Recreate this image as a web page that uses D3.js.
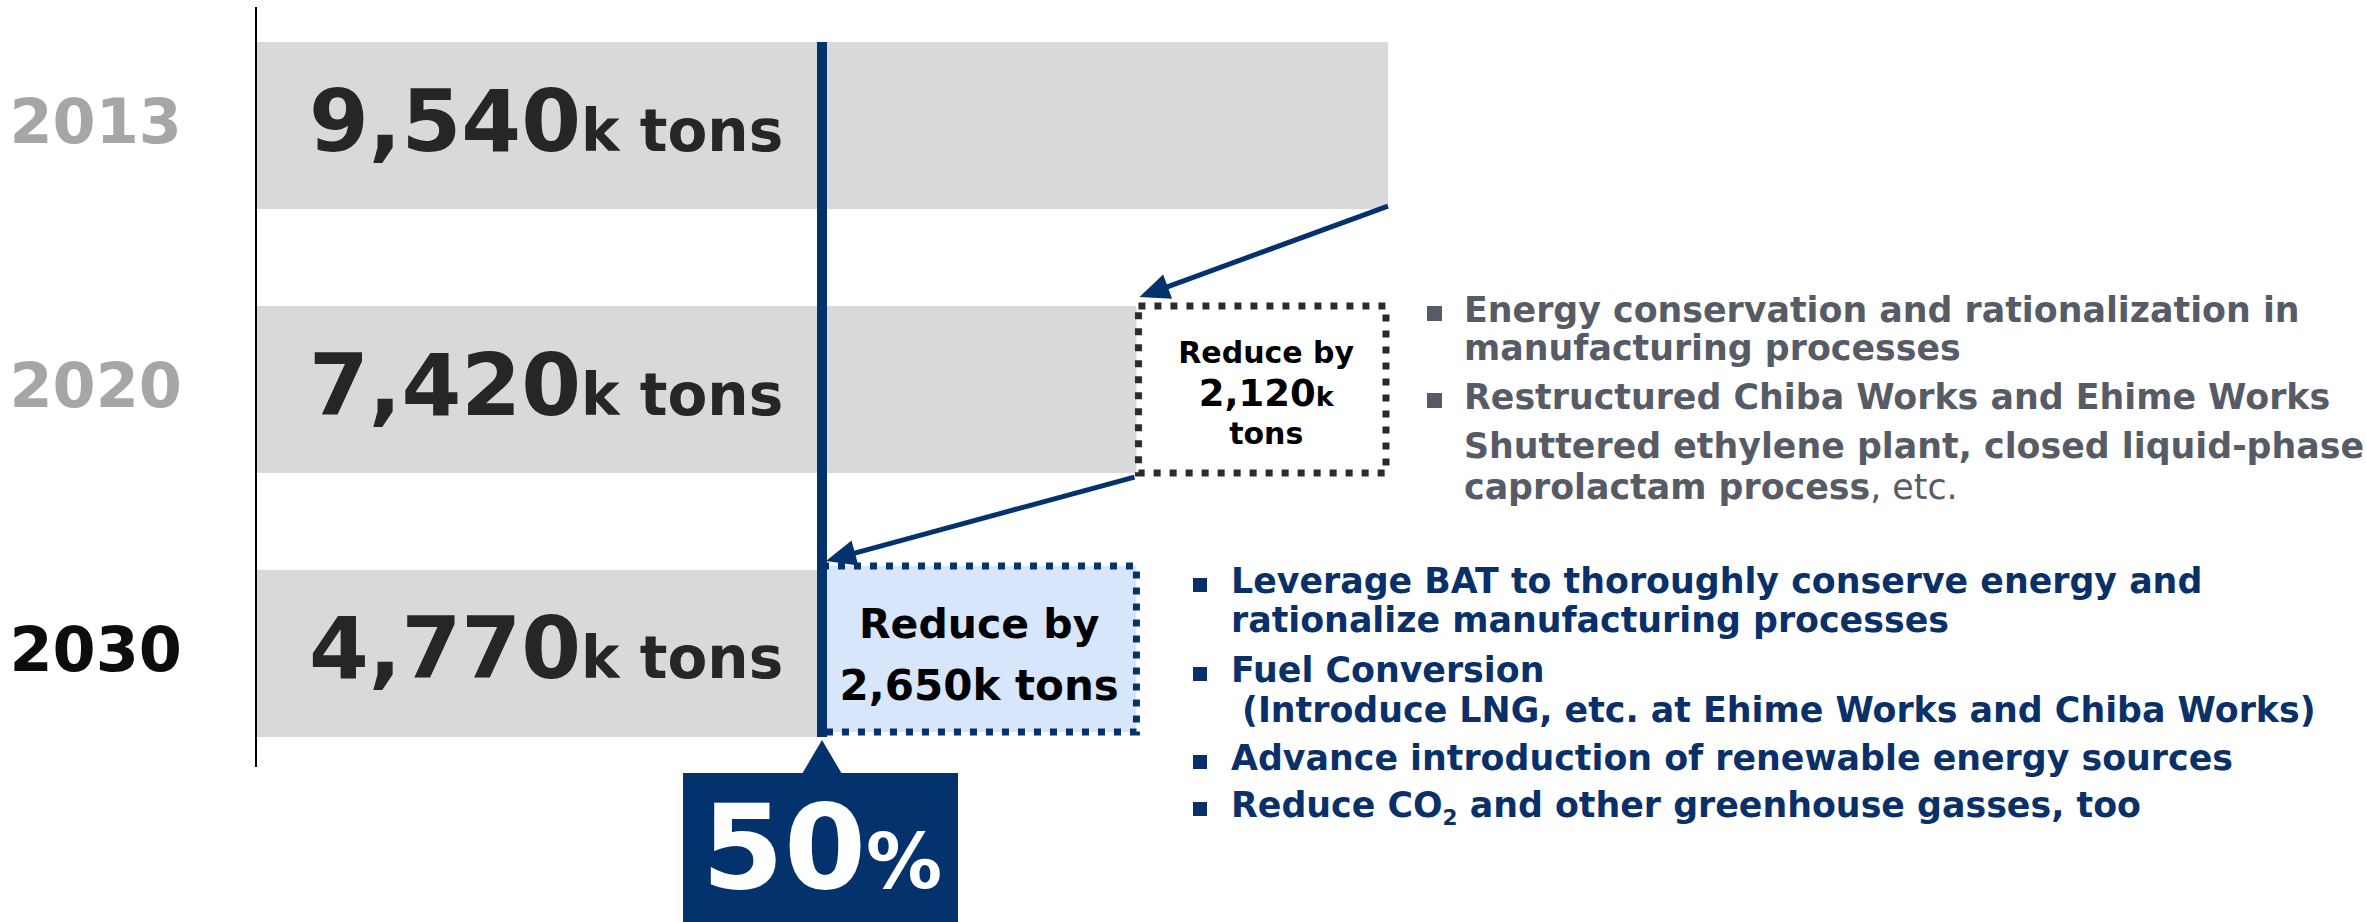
<!DOCTYPE html>
<html>
<head>
<meta charset="utf-8">
<script src="https://cdn.jsdelivr.net/npm/d3@7"></script>
<style>
  html, body { margin: 0; padding: 0; background: #ffffff; }
  svg { display: block; }
  text { font-family: "DejaVu Sans", Verdana, sans-serif; font-weight: bold; }
</style>
</head>
<body>
<svg id="chart" width="2366" height="922"></svg>
<script>
// ---------------- data ----------------
const years = ["2013", "2020", "2030"];
const emissions = [9540, 7420, 4770];          // thousand tons
const reductionFrom = ["2013", "2020"];
const reductionTo = ["2020", "2030"];
const reductionAmounts = [2120, 2650];          // thousand tons
const reductionPercent = 50;                    // vs 2013
const unitLabel = "k tons";

const grayBullets = [
  { bullet: true,  parts: [{ t: "Energy conservation and rationalization in" }] },
  { bullet: false, parts: [{ t: "manufacturing processes" }] },
  { bullet: true,  parts: [{ t: "Restructured Chiba Works and Ehime Works" }] },
  { bullet: false, parts: [{ t: "Shuttered ethylene plant, closed liquid-phase" }] },
  { bullet: false, parts: [{ t: "caprolactam process" }, { t: ", etc.", normal: true }] }
];
const navyBullets = [
  { bullet: true,  parts: [{ t: "Leverage BAT to thoroughly conserve energy and" }] },
  { bullet: false, parts: [{ t: "rationalize manufacturing processes" }] },
  { bullet: true,  parts: [{ t: "Fuel Conversion" }] },
  { bullet: false, indent: true, parts: [{ t: "(Introduce LNG, etc. at Ehime Works and Chiba Works)" }] },
  { bullet: true,  parts: [{ t: "Advance introduction of renewable energy sources" }] },
  { bullet: true,  parts: [{ t: "Reduce CO" }, { t: "2", sub: true }, { t: " and other greenhouse gasses, too" }] }
];

// ---------------- styles ----------------
const NAVY = "#04326c";
const BAR_GRAY = "#d9d9d9";
const LIGHT_BLUE = "#d8e6fb";
const DARK = "#262626";
const YEAR_GRAY = "#a6a6a6";
const TEXT_GRAY = "#575b66";
const fmt = d3.format(",");

const svg = d3.select("#chart");

const x = d3.scaleLinear().domain([0, 9540]).range([256, 1388]);
const y = d3.scaleBand().domain(years).range([42, 737]).paddingInner(0.367).paddingOuter(0);
const bw = y.bandwidth();
const valueOf = yr => emissions[years.indexOf(yr)];

// ---------------- bars ----------------
svg.append("g").selectAll("rect")
  .data(years)
  .join("rect")
  .attr("x", x(0))
  .attr("y", d => y(d))
  .attr("width", d => x(valueOf(d)) - x(0))
  .attr("height", bw)
  .attr("fill", BAR_GRAY);

// reduction boxes
// 2013 -> 2020 : dotted white box on 2020 row
const r1 = { x0: x(valueOf("2020")), x1: x(valueOf("2013")), yTop: y("2020") };
svg.append("rect")
  .attr("x", r1.x0 + 2).attr("y", r1.yTop)
  .attr("width", r1.x1 - r1.x0 - 4).attr("height", bw)
  .attr("fill", "#ffffff")
  .attr("stroke", "#2b2b2b").attr("stroke-width", 7)
  .attr("stroke-dasharray", "7 9");

// 2020 -> 2030 : light blue dotted box on 2030 row
const r2 = { x0: x(valueOf("2030")), x1: x(valueOf("2020")), yTop: y("2030") };
svg.append("rect")
  .attr("x", r2.x0).attr("y", r2.yTop - 4)
  .attr("width", r2.x1 - r2.x0).attr("height", bw - 1)
  .attr("fill", LIGHT_BLUE)
  .attr("stroke", NAVY).attr("stroke-width", 7)
  .attr("stroke-dasharray", "7 9");

// vertical target line (50% of 2013)
svg.append("line")
  .attr("x1", x(valueOf("2030"))).attr("x2", x(valueOf("2030")))
  .attr("y1", y("2013")).attr("y2", y("2030") + bw)
  .attr("stroke", NAVY).attr("stroke-width", 10);

// axis line
svg.append("line")
  .attr("x1", x(0)).attr("x2", x(0))
  .attr("y1", 7).attr("y2", 767)
  .attr("stroke", "#000").attr("stroke-width", 2);

// year labels via axis
const yAxis = d3.axisLeft(y).tickSize(0).tickPadding(74);
const ag = svg.append("g").attr("transform", `translate(${x(0)},0)`).call(yAxis);
ag.select(".domain").remove();
ag.selectAll("text")
  .attr("dy", "0.28em")
  .attr("font-family", "DejaVu Sans")
  .attr("font-weight", "bold")
  .attr("font-size", 62)
  .attr("fill", d => d === "2030" ? "#0d0d0d" : YEAR_GRAY);

// value labels
svg.append("g").selectAll("text")
  .data(years)
  .join("text")
  .attr("x", x(0) + 53)
  .attr("y", d => y(d) + bw / 2 + 25)
  .attr("fill", DARK)
  .each(function (d) {
    const t = d3.select(this);
    t.append("tspan").attr("font-size", 86).text(fmt(valueOf(d)));
    t.append("tspan").attr("font-size", 58).text(unitLabel);
  });

// reduction labels
// box 1
{
  const cx = (r1.x0 + r1.x1) / 2 + 4;
  const cy = r1.yTop + bw / 2;
  const g = svg.append("g").attr("fill", "#000");
  g.append("text").attr("x", cx).attr("y", cy - 27).attr("text-anchor", "middle")
    .attr("font-size", 30).text("Reduce by");
  const t2 = g.append("text").attr("x", cx).attr("y", cy + 16).attr("text-anchor", "middle");
  t2.append("tspan").attr("font-size", 37).text(fmt(reductionAmounts[0]));
  t2.append("tspan").attr("font-size", 27).text("k");
  g.append("text").attr("x", cx).attr("y", cy + 54).attr("text-anchor", "middle")
    .attr("font-size", 30).text("tons");
}
// box 2
{
  const cx = (r2.x0 + r2.x1) / 2;
  const cy = r2.yTop + bw / 2;
  const g = svg.append("g").attr("fill", "#000");
  g.append("text").attr("x", cx).attr("y", cy - 15).attr("text-anchor", "middle")
    .attr("font-size", 41).text("Reduce by");
  g.append("text").attr("x", cx).attr("y", cy + 47).attr("text-anchor", "middle")
    .attr("font-size", 42).text(fmt(reductionAmounts[1]) + unitLabel);
}

// arrows
function arrow(x1, y1, x2, y2) {
  const dx = x2 - x1, dy = y2 - y1, len = Math.hypot(dx, dy);
  const ux = dx / len, uy = dy / len, nx = -uy, ny = ux;
  const L = 30, W = 26;
  svg.append("line")
    .attr("x1", x1).attr("y1", y1)
    .attr("x2", x2 - ux * (L - 4)).attr("y2", y2 - uy * (L - 4))
    .attr("stroke", NAVY).attr("stroke-width", 5);
  const bx = x2 - ux * L, by = y2 - uy * L;
  svg.append("path")
    .attr("d", d3.line()([[x2, y2], [bx + nx * W / 2, by + ny * W / 2], [bx - nx * W / 2, by - ny * W / 2]]) + "Z")
    .attr("fill", NAVY);
}
arrow(x(valueOf(reductionFrom[0])), y(reductionFrom[0]) + bw - 3, x(valueOf(reductionTo[0])) + 3, y(reductionTo[0]) - 9);
arrow(x(valueOf(reductionFrom[1])) - 2, y(reductionFrom[1]) + bw + 4, x(valueOf(reductionTo[1])) + 4, y(reductionTo[1]) - 9);

// 50% callout
{
  const cx = x(valueOf("2030"));
  const top = 773;
  svg.append("path")
    .attr("d", d3.line()([[cx, 740], [cx + 20, top + 1], [cx - 20, top + 1]]) + "Z")
    .attr("fill", NAVY);
  svg.append("rect")
    .attr("x", cx - 139).attr("y", top).attr("width", 275).attr("height", 160)
    .attr("fill", NAVY);
  const t = svg.append("text").attr("x", cx).attr("y", 888)
    .attr("text-anchor", "middle").attr("fill", "#fff");
  t.append("tspan").attr("font-size", 118).text(reductionPercent);
  t.append("tspan").attr("font-size", 76).text("%");
}

// bullet lists
function bulletList(items, opts) {
  const g = svg.append("g");
  items.forEach((it, i) => {
    const by = opts.baselines[i];
    if (it.bullet) {
      g.append("rect")
        .attr("x", opts.bulletX).attr("y", by - opts.bulletSize - 1)
        .attr("width", opts.bulletSize).attr("height", opts.bulletSize)
        .attr("fill", opts.color);
    }
    const t = g.append("text")
      .attr("x", opts.textX + (it.indent ? 11 : 0)).attr("y", by)
      .attr("font-size", opts.fontSize).attr("fill", opts.color);
    it.parts.forEach(p => {
      const ts = t.append("tspan").text(p.t);
      if (p.normal) ts.attr("font-weight", "normal");
      if (p.sub) ts.attr("font-size", opts.fontSize * 0.62).attr("dy", 8);
      else if (it.parts.some(q => q.sub) && p !== it.parts[0]) ts.attr("dy", -8);
    });
  });
}
bulletList(grayBullets, {
  color: TEXT_GRAY, fontSize: 34.8, bulletX: 1427, bulletSize: 15, textX: 1464,
  baselines: [322, 360, 409, 458, 499]
});
bulletList(navyBullets, {
  color: "#0a3069", fontSize: 34.8, bulletX: 1193, bulletSize: 14, textX: 1231,
  baselines: [593, 632, 682, 722, 770, 817]
});
</script>
</body>
</html>
